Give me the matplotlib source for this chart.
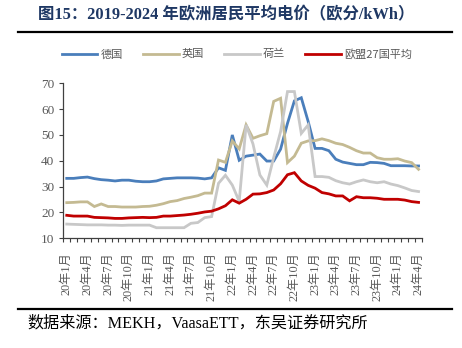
import matplotlib
matplotlib.use("Agg")
import matplotlib.pyplot as plt
import numpy as np

months = [f"{y}年{m}月" for y in range(20, 25) for m in range(1, 13)][:52]
tick_labels = months[::3]

germany = [33.2, 33.2, 33.5, 33.7, 33.1, 32.7, 32.5, 32.2, 32.5, 32.5, 32.1, 31.9, 31.9, 32.2,
           33.0, 33.2, 33.4, 33.4, 33.4, 33.3, 33.0, 33.4, 37.3, 36.3, 50.0, 40.2, 41.8, 42.2,
           42.6, 39.9, 39.9, 44.5, 54.5, 63.2, 64.4, 55.2, 44.8, 44.8, 43.9, 40.6, 39.5, 39.0,
           38.5, 38.5, 39.4, 39.3, 39.0, 38.1, 38.1, 38.1, 38.0, 38.0]
uk = [23.8, 23.9, 24.1, 24.1, 22.3, 23.3, 22.3, 22.3, 22.1, 22.1, 22.1, 22.3, 22.4, 22.8,
      23.4, 24.2, 24.6, 25.4, 25.9, 26.5, 27.5, 27.5, 40.3, 39.4, 47.7, 44.6, 53.9, 48.7,
      49.7, 50.5, 63.0, 64.2, 39.3, 41.8, 46.8, 47.7, 47.8, 48.5, 47.8, 46.8, 46.3, 45.2,
      43.9, 43.0, 43.0, 41.2, 40.6, 40.6, 40.8, 39.9, 39.3, 36.7]
netherlands = [15.5, 15.4, 15.3, 15.2, 15.2, 15.2, 15.1, 15.1, 15.0, 15.1, 15.1, 15.1, 15.1, 14.1,
               14.1, 14.1, 14.1, 14.1, 15.8, 16.1, 18.0, 18.4, 31.3, 34.4, 30.6, 24.3, 53.9, 46.5,
               34.5, 30.6, 41.3, 51.3, 66.8, 66.8, 50.6, 53.9, 33.9, 33.9, 33.6, 32.3, 31.5, 31.0,
               31.9, 32.6, 31.9, 31.5, 31.9, 31.0, 30.4, 29.5, 28.5, 28.1]
eu27 = [18.9, 18.6, 18.6, 18.6, 18.1, 18.0, 17.9, 17.7, 17.7, 17.9, 18.0, 18.1, 18.0, 18.1,
        18.6, 18.6, 18.8, 19.0, 19.3, 19.7, 20.2, 20.5, 21.4, 22.6, 24.9, 23.6, 25.1, 27.1,
        27.2, 27.7, 28.7, 31.1, 34.6, 35.4, 32.2, 30.5, 29.4, 27.7, 27.2, 26.4, 26.4, 24.5,
        26.1, 25.7, 25.7, 25.5, 25.1, 25.1, 25.1, 24.8, 24.2, 23.9]

series_names = ["德国", "英国", "荷兰", "欧盟27国平均"]
series_values = [germany, uk, netherlands, eu27]
colors = ["#4A7EBB", "#C4BA92", "#C8C8C8", "#C00000"]

serif = ["Liberation Serif", "Noto Sans CJK SC"]
cjk = ["Noto Sans CJK SC", "Liberation Serif"]

fig = plt.figure(figsize=(4.62, 3.48), dpi=100)

# title
fig.text(38 / 462, 1 - 15 / 348, "图15：2019-2024 年欧洲居民平均电价（欧分/kWh）",
         fontsize=11.8, fontweight="bold", color="#1F3864", family=serif, va="center", ha="left")
fig.add_artist(plt.Line2D([18 / 462, 452 / 462], [1 - 32 / 348, 1 - 32 / 348], color="black", lw=1.6))
fig.add_artist(plt.Line2D([18 / 462, 452 / 462], [1 - 309 / 348, 1 - 309 / 348], color="black", lw=1.6))
fig.text(27 / 462, 1 - 323 / 348, "数据来源：MEKH，VaasaETT，东吴证券研究所",
         fontsize=11.6, color="black", family=serif, va="center", ha="left")

ax = fig.add_axes([63.3 / 462, 1 - 238.3 / 348, (422 - 63.3) / 462, (238.3 - 83.3) / 348])
x = np.arange(len(months))
lines = []
for name, vals, c in zip(series_names, series_values, colors):
    ln, = ax.plot(x, vals, color=c, lw=2.0, label=name, solid_joinstyle="miter")
    lines.append(ln)

ax.set_xlim(-0.5, len(months) - 0.5)
ax.set_ylim(10, 70)
ax.set_yticks(range(10, 71, 10))
ax.set_xticks(x[::3])
ax.set_xticklabels(tick_labels, rotation=90, family=serif, fontsize=8.8, color="#595959")
ax.set_xticks(np.arange(-0.5, len(months), 1), minor=True)
ax.tick_params(axis="x", which="major", length=0, pad=10)
ax.tick_params(axis="x", which="minor", length=3, width=0.8, color="#404040", direction="out")
ax.tick_params(axis="y", length=3, width=0.8, color="#404040", labelsize=9.5, labelcolor="#595959")
for lbl in ax.get_yticklabels():
    lbl.set_family(serif)
for s in ["top", "right"]:
    ax.spines[s].set_visible(False)
for s in ["left", "bottom"]:
    ax.spines[s].set_color("#404040")
    ax.spines[s].set_linewidth(0.9)

leg = fig.legend(handles=lines, labels=series_names, loc="center", ncol=4,
                 bbox_to_anchor=(237 / 462, 1 - 54 / 348), frameon=False,
                 prop={"family": cjk, "size": 8}, handlelength=3.2, columnspacing=1.8,
                 handletextpad=0.3)
for t in leg.get_texts():
    t.set_color("#595959")

fig.savefig("out.png", dpi=100)
